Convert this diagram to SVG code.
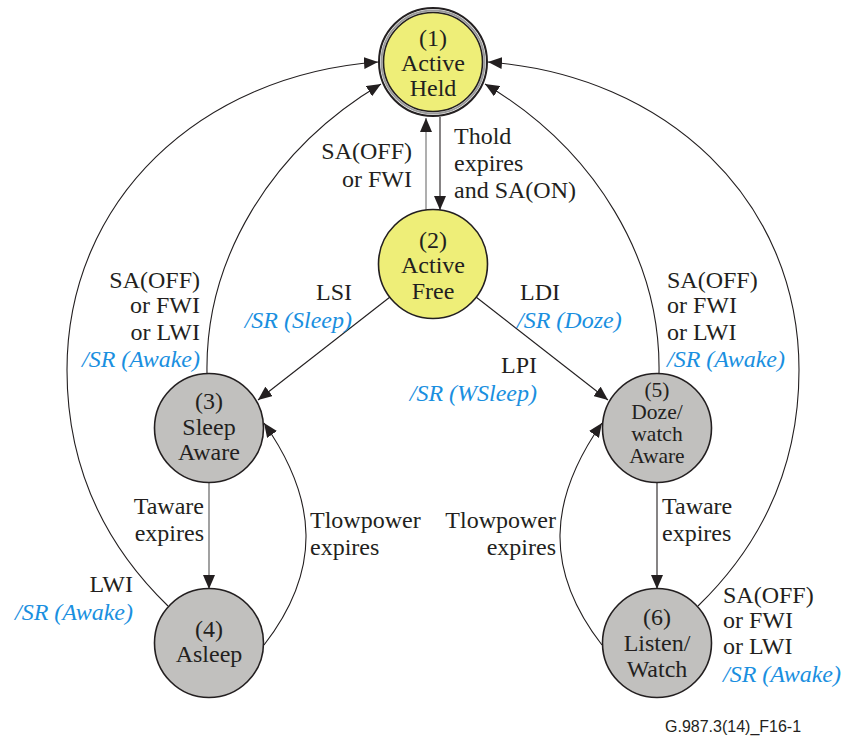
<svg xmlns="http://www.w3.org/2000/svg" width="845" height="738" viewBox="0 0 845 738">
<style>
text{font-family:"Liberation Serif","Times New Roman",serif;font-size:24px;fill:#231f20}
.c{text-anchor:middle}
.r{text-anchor:end}
.s{font-size:21.5px}
.b{fill:#1a8fe0;font-style:italic}
.yel{fill:#eeee78;stroke:#231f20;stroke-width:1.6}
.gry{fill:#c1c0be;stroke:#231f20;stroke-width:1.6}
.e{fill:none;stroke:#231f20;stroke-width:1.1;marker-end:url(#ah)}
.foot{font-family:"Liberation Sans",Arial,sans-serif;font-size:16px}
</style>
<defs>
<marker id="ah" markerUnits="userSpaceOnUse" markerWidth="15" markerHeight="12" refX="14" refY="6" orient="auto">
<path d="M0,0 L14,6 L0,12 z" fill="#231f20"/>
</marker>
</defs>
<rect width="845" height="738" fill="#fff"/>
<g id="connectors">
<path class="e" d="M426,210 L426,118" style="stroke:#6d6d6d"/>
<path class="e" d="M440,117 L440,210"/>
<path class="e" d="M390,297 L258,400"/>
<path class="e" d="M476,297 L608,400"/>
<path class="e" d="M207,373 C205,260 270,150 381,84"/>
<path class="e" d="M168,606 C100,540 67,460 67,370 C67,200 200,75 378,62"/>
<path class="e" d="M659,373 C661,260 596,150 485,84"/>
<path class="e" d="M698,606 C766,540 799,460 799,370 C799,200 666,75 488,62"/>
<path class="e" d="M209,482 L209,589" style="stroke:#555"/>
<path class="e" d="M657,482 L657,589"/>
<path class="e" d="M264,645 C322,570 318,500 264,423"/>
<path class="e" d="M602,645 C544,570 548,500 602,423"/>
</g>
<g id="n1">
<circle cx="433" cy="62" r="54" fill="#fff" stroke="#231f20" stroke-width="2"/>
<circle cx="433" cy="62" r="51.5" fill="none" stroke="#9a9a9a" stroke-width="2"/>
<circle cx="433" cy="62" r="49.5" class="yel" stroke-width="2"/>
<text class="c" x="433" y="46">(1)</text>
<text class="c" x="433" y="71">Active</text>
<text class="c" x="433" y="96">Held</text>
</g>
<g id="n2">
<circle cx="433" cy="264" r="54.5" class="yel"/>
<text class="c" x="433" y="248">(2)</text>
<text class="c" x="433" y="273">Active</text>
<text class="c" x="433" y="299">Free</text>
</g>
<g id="n3">
<circle cx="209" cy="428" r="54.5" class="gry"/>
<text class="c" x="209" y="409">(3)</text>
<text class="c" x="209" y="435">Sleep</text>
<text class="c" x="209" y="460">Aware</text>
</g>
<g id="n4">
<circle cx="209" cy="643" r="54.5" class="gry"/>
<text class="c" x="209" y="637">(4)</text>
<text class="c" x="209" y="662">Asleep</text>
</g>
<g id="n5">
<circle cx="657" cy="428" r="54.5" class="gry"/>
<text class="c s" x="657" y="397">(5)</text>
<text class="c s" x="657" y="419">Doze/</text>
<text class="c s" x="657" y="441">watch</text>
<text class="c s" x="657" y="463">Aware</text>
</g>
<g id="n6">
<circle cx="657" cy="643" r="54.5" class="gry"/>
<text class="c" x="657" y="625">(6)</text>
<text class="c" x="657" y="651">Listen/</text>
<text class="c" x="657" y="677">Watch</text>
</g>
<g id="labels">
<text class="r" x="412" y="159">SA(OFF)</text>
<text class="r" x="412" y="187">or FWI</text>
<text x="454" y="144">Thold</text>
<text x="454" y="171">expires</text>
<text x="454" y="198">and SA(ON)</text>
<text class="r" x="352" y="300">LSI</text>
<text class="r b" x="352" y="328">/SR (Sleep)</text>
<text x="520" y="300">LDI</text>
<text class="b" x="517" y="328">/SR (Doze)</text>
<text class="r" x="537" y="373">LPI</text>
<text class="r b" x="537" y="401">/SR (WSleep)</text>
<text class="r" x="200" y="288">SA(OFF)</text>
<text class="r" x="200" y="313">or FWI</text>
<text class="r" x="200" y="340">or LWI</text>
<text class="r b" x="200" y="367">/SR (Awake)</text>
<text x="667" y="288">SA(OFF)</text>
<text x="667" y="313">or FWI</text>
<text x="667" y="340">or LWI</text>
<text class="b" x="667" y="367">/SR (Awake)</text>
<text class="r" x="204" y="514">Taware</text>
<text class="r" x="204" y="541">expires</text>
<text x="310" y="528">Tlowpower</text>
<text x="310" y="555">expires</text>
<text class="r" x="133" y="592">LWI</text>
<text class="r b" x="133" y="620">/SR (Awake)</text>
<text class="r" x="556" y="528">Tlowpower</text>
<text class="r" x="556" y="555">expires</text>
<text x="662" y="514">Taware</text>
<text x="662" y="541">expires</text>
<text x="723" y="603">SA(OFF)</text>
<text x="723" y="628">or FWI</text>
<text x="723" y="654">or LWI</text>
<text class="b" x="723" y="682">/SR (Awake)</text>
<text class="foot" x="665" y="732">G.987.3(14)_F16-1</text>
</g>
</svg>
